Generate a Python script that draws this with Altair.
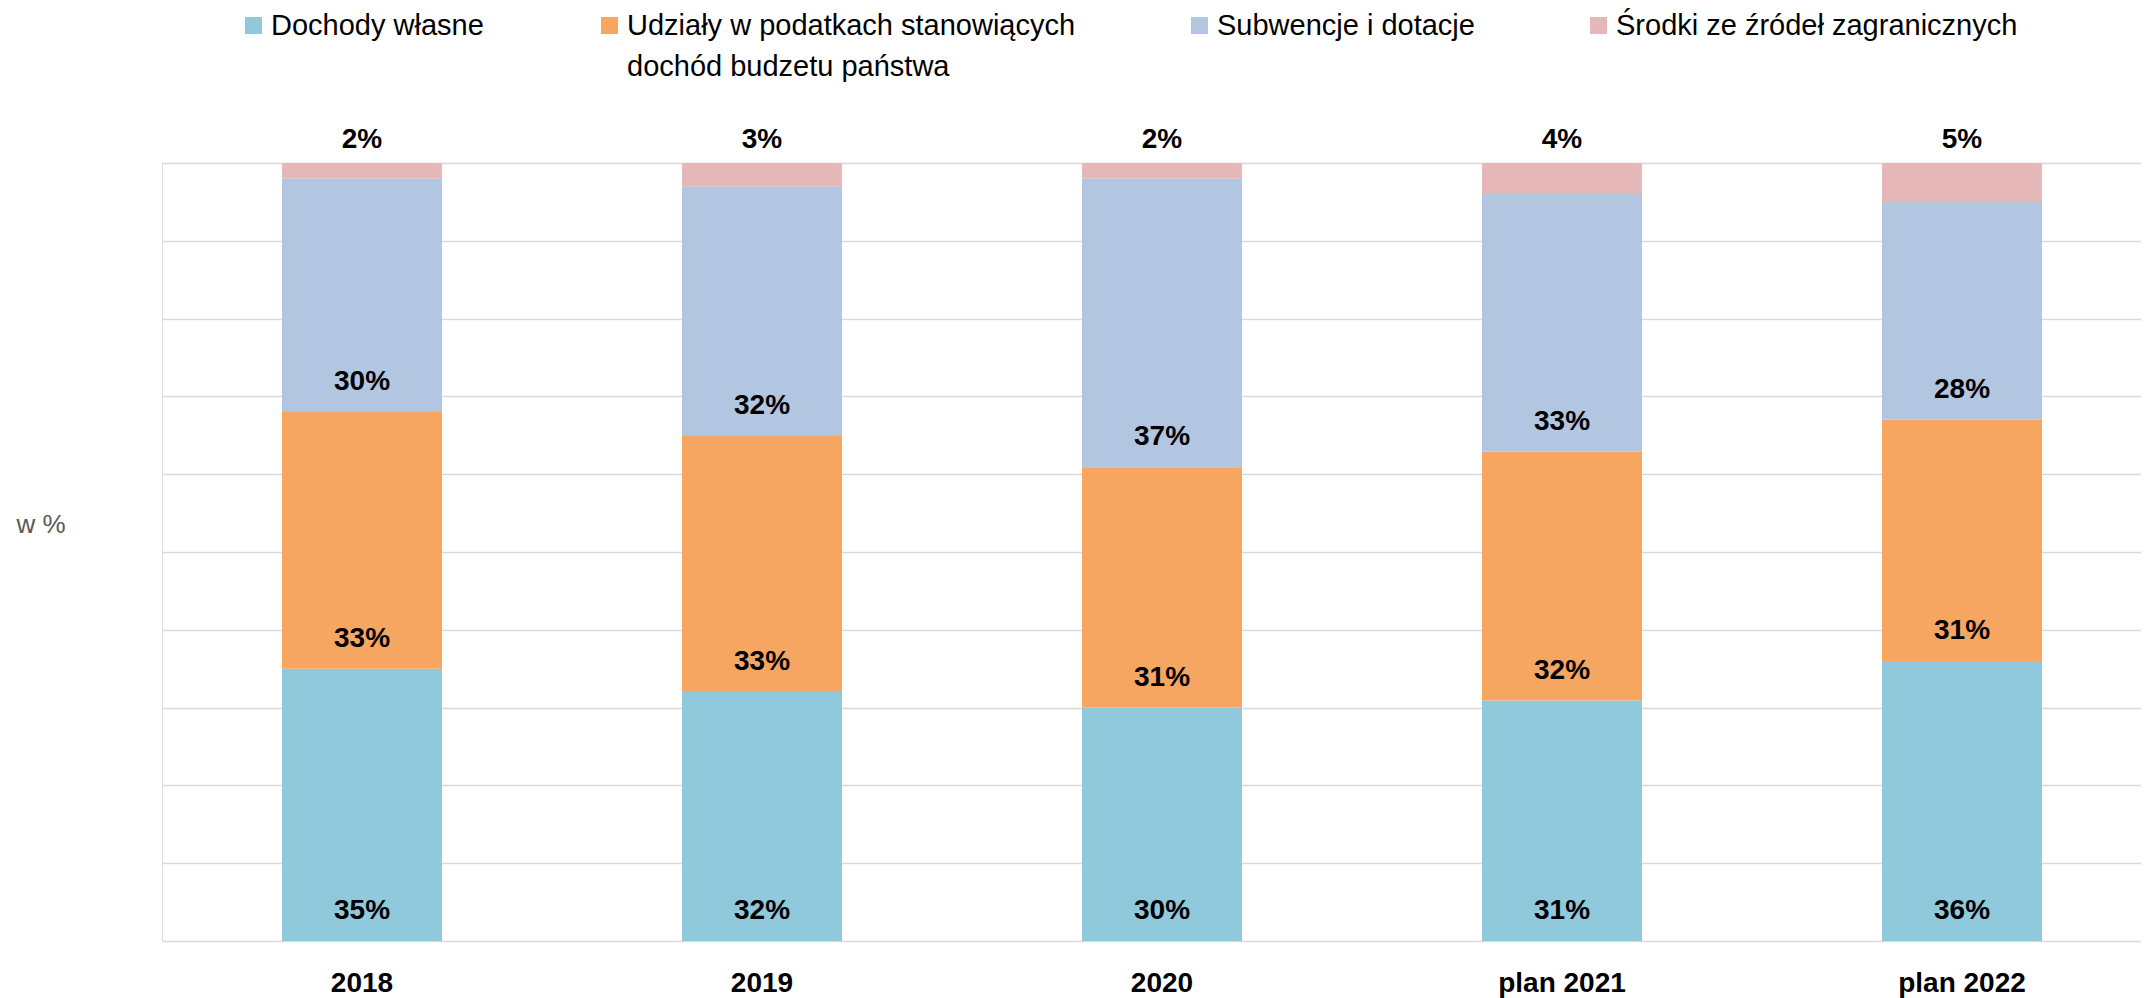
import altair as alt
import pandas as pd

# ---------------- data ----------------
years = ["2018", "2019", "2020", "plan 2021", "plan 2022"]
series = [
    "Dochody własne",
    "Udziały w podatkach stanowiących dochód budzetu państwa",
    "Subwencje i dotacje",
    "Środki ze źródeł zagranicznych",
]
dochody_wlasne = [35.0, 32.0, 30.0, 30.9, 36.0]
udzialy = [33.0, 32.9, 30.9, 32.0, 31.0]
subwencje = [30.0, 32.1, 37.1, 33.1, 28.0]
srodki_zagr = [2.0, 3.0, 2.0, 4.0, 5.0]
values = [dochody_wlasne, udzialy, subwencje, srodki_zagr]

# ---------------- style ----------------
colors = ["#8FC9DB", "#F7A661", "#B2C6E1", "#E6B7B7"]
legend_x = [77, 433, 1023, 1422]
legend_y = -152
FONT = "Liberation Sans"

rows = []
for si, (name, vals) in enumerate(zip(series, values)):
    for yr, v in zip(years, vals):
        rows.append({"year": yr, "series": name, "order": si, "value": v})
df = pd.DataFrame(rows)

base = alt.Chart(df).transform_stack(
    stack="value", groupby=["year"], as_=["y0", "y1"],
    sort=[alt.SortField("order", order="ascending")],
).transform_calculate(label="format(datum.value, '.0f') + '%'")


def x_enc():
    return alt.X(
        "year:N", sort=years,
        scale=alt.Scale(paddingInner=0.6, paddingOuter=0.27375, align=0.548),
        axis=alt.Axis(title=None, labelAngle=0, labelFont=FONT, labelFontSize=28,
                      labelFontWeight="bold", labelColor="#000000", ticks=False,
                      tickSize=0, domain=False, grid=False, labelPadding=42,
                      labelBaseline="middle"),
    )


def y_enc(field):
    return alt.Y(
        field, type="quantitative",
        scale=alt.Scale(domain=[0, 100], nice=False, zero=True),
        axis=alt.Axis(title="w %", titleAngle=0, titleX=-146, titleY=361,
                      titleAlign="left", titleBaseline="middle", titleFont=FONT,
                      titleFontSize=26, titleFontWeight="normal", titleColor="#595959",
                      labels=False, ticks=False, domain=False, grid=True,
                      values=list(range(0, 101, 10)), gridColor="#D9D9D9",
                      gridWidth=1.5),
    )


layers = []
for i, name in enumerate(series):
    leg_kwargs = dict(
        orient="none", legendX=legend_x[i], legendY=legend_y, title=None,
        symbolType="square", symbolSize=289, symbolStrokeWidth=0,
        labelFont=FONT, labelFontSize=29, labelColor="#000000",
        labelOffset=3, labelLimit=3000, padding=0,
    )
    if i == 1:
        leg_kwargs["labelExpr"] = "['Udziały w podatkach stanowiących', 'dochód budzetu państwa']"
    layer = base.transform_filter(alt.datum.order == i).mark_bar().encode(
        x=x_enc(),
        y=y_enc("y0"),
        y2="y1:Q",
        color=alt.Color("series:N",
                        scale=alt.Scale(domain=[name], range=[colors[i]]),
                        legend=alt.Legend(**leg_kwargs)),
    )
    layers.append(layer)

labels_in = base.transform_filter(alt.datum.order < 3).mark_text(
    font=FONT, fontSize=28, fontWeight="bold", color="#000000",
    baseline="middle", align="center", dy=-30,
).encode(x=x_enc(), y=y_enc("y0"), text="label:N")

labels_top = base.transform_filter(alt.datum.order == 3).mark_text(
    font=FONT, fontSize=28, fontWeight="bold", color="#000000",
    baseline="middle", align="center", dy=-23,
).encode(x=x_enc(), y=y_enc("y1"), text="label:N")

chart = alt.layer(*layers, labels_in, labels_top).resolve_scale(
    color="independent"
).properties(
    width=1979, height=778,
    autosize=alt.AutoSizeParams(type="none"),
    padding={"left": 154, "top": 155, "right": 0, "bottom": 60},
    background="#FFFFFF",
).configure_view(stroke="transparent", strokeWidth=0).configure(
    style={"guide-label": {"lineHeight": 41}}
)

chart.save("out.html", embed_options={"renderer": "svg", "actions": False})
